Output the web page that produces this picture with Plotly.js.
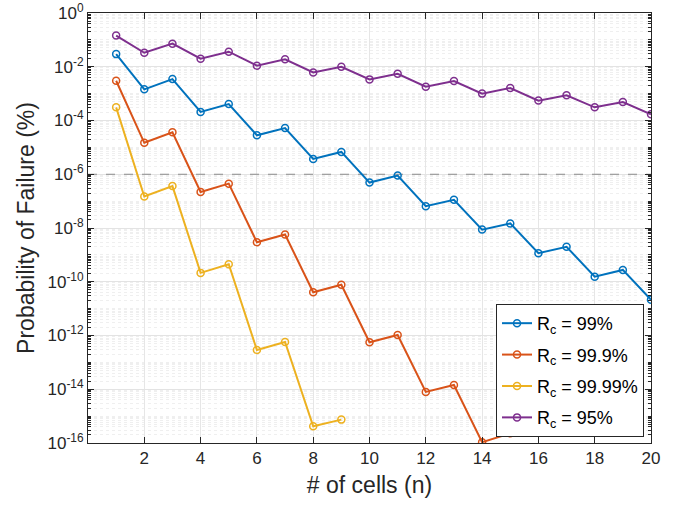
<!DOCTYPE html>
<html>
<head>
<meta charset="utf-8">
<script src="https://cdn.plot.ly/plotly-3.0.1.min.js"></script>
<style>html,body{margin:0;padding:0;background:#fff}#chart{width:691px;height:509px}</style>
</head>
<body>
<div id="chart"></div>
<script>
// Data (log10 of probability of failure, %)
var nCells = [1,2,3,4,5,6,7,8,9,10,11,12,13,14,15,16,17,18,19,20];
var log99   = [-1.53,-2.84,-2.46,-3.68,-3.39,-4.55,-4.28,-5.43,-5.17,-6.31,-6.05,-7.19,-6.95,-8.06,-7.83,-8.94,-8.70,-9.81,-9.56,-10.67];
var log999  = [-2.52,-4.83,-4.44,-6.66,-6.35,-8.53,-8.24,-10.39,-10.11,-12.25,-11.98,-14.10,-13.84,-15.97,-15.64];
var log9999 = [-3.51,-6.83,-6.44,-9.67,-9.35,-12.54,-12.24,-15.38,-15.13];
var log95   = [-0.84,-1.48,-1.14,-1.70,-1.44,-1.96,-1.72,-2.21,-2.00,-2.47,-2.26,-2.74,-2.53,-3.00,-2.79,-3.26,-3.06,-3.51,-3.31,-3.77];
var seriesNames = ['R<sub>c</sub> = 99%','R<sub>c</sub> = 99.9%','R<sub>c</sub> = 99.99%','R<sub>c</sub> = 95%'];
var threshold = 1e-6;
var xTickVals = [2,4,6,8,10,12,14,16,18,20];
var yTickExp = [0,-2,-4,-6,-8,-10,-12,-14,-16];

function pow10(a){return a.map(function(v){return Math.pow(10,v);});}
var colors = ['#0072BD','#D95319','#EDB120','#7E2F8E'];
var logs = [log99, log999, log9999, log95];

var traces = [{
  x:[0,20], y:[threshold,threshold], mode:'lines', showlegend:false, hoverinfo:'skip',
  line:{color:'#8c8c8c', width:1, dash:'dash'}
}];
for (var i=0;i<4;i++){
  traces.push({
    x: nCells.slice(0, logs[i].length), y: pow10(logs[i]),
    mode:'lines+markers', name: seriesNames[i], legendgroup:'g'+i,
    line:{color:colors[i], width:2},
    marker:{symbol:'circle-open', size:7, color:colors[i], line:{width:1.5, color:colors[i]}}
  });
}

var fam = '"Liberation Sans", Arial, sans-serif';
var layout = {
  width:691, height:509,
  margin:{l:88, r:40, t:13, b:66},
  paper_bgcolor:'#fff', plot_bgcolor:'#fff',
  font:{family:fam, color:'#262626'},
  showlegend:true,
  legend:{
    x:0.9876, xanchor:'right', y:0.014, yanchor:'bottom',
    bgcolor:'#fff', bordercolor:'#262626', borderwidth:1,
    font:{family:fam, size:18, color:'#000'},
    tracegroupgap:5, itemwidth:30
  },
  xaxis:{
    range:[0,20], tickvals:xTickVals, ticks:'inside', ticklen:6, tickcolor:'#262626',
    showline:true, linecolor:'#262626', linewidth:1, mirror:'allticks',
    showgrid:true, gridcolor:'#e6e6e6', gridwidth:1, zeroline:false,
    tickfont:{family:fam, size:17, color:'#262626'},
    title:{text:'# of cells (n)', font:{family:fam, size:23, color:'#262626'}, standoff:9}
  },
  yaxis:{
    type:'log', range:[-16,0],
    tickvals: yTickExp.map(function(e){return Math.pow(10,e);}),
    ticktext: yTickExp.map(function(e){return '10<sup>'+e+'</sup>';}),
    ticks:'inside', ticklen:6, tickcolor:'#262626',
    showline:true, linecolor:'#262626', linewidth:1, mirror:'allticks',
    showgrid:true, gridcolor:'#e3e3e3', gridwidth:1, zeroline:false,
    minor:{dtick:'D1', ticks:'inside', ticklen:3, tickcolor:'#262626', showgrid:true, gridcolor:'#efefef', griddash:'dot', gridwidth:1},
    tickfont:{family:fam, size:17, color:'#262626'},
    title:{text:'Probability of Failure (%)', font:{family:fam, size:23, color:'#262626'}, standoff:6}
  }
};
Plotly.newPlot('chart', traces, layout, {displayModeBar:false, staticPlot:true});
</script>
</body>
</html>
